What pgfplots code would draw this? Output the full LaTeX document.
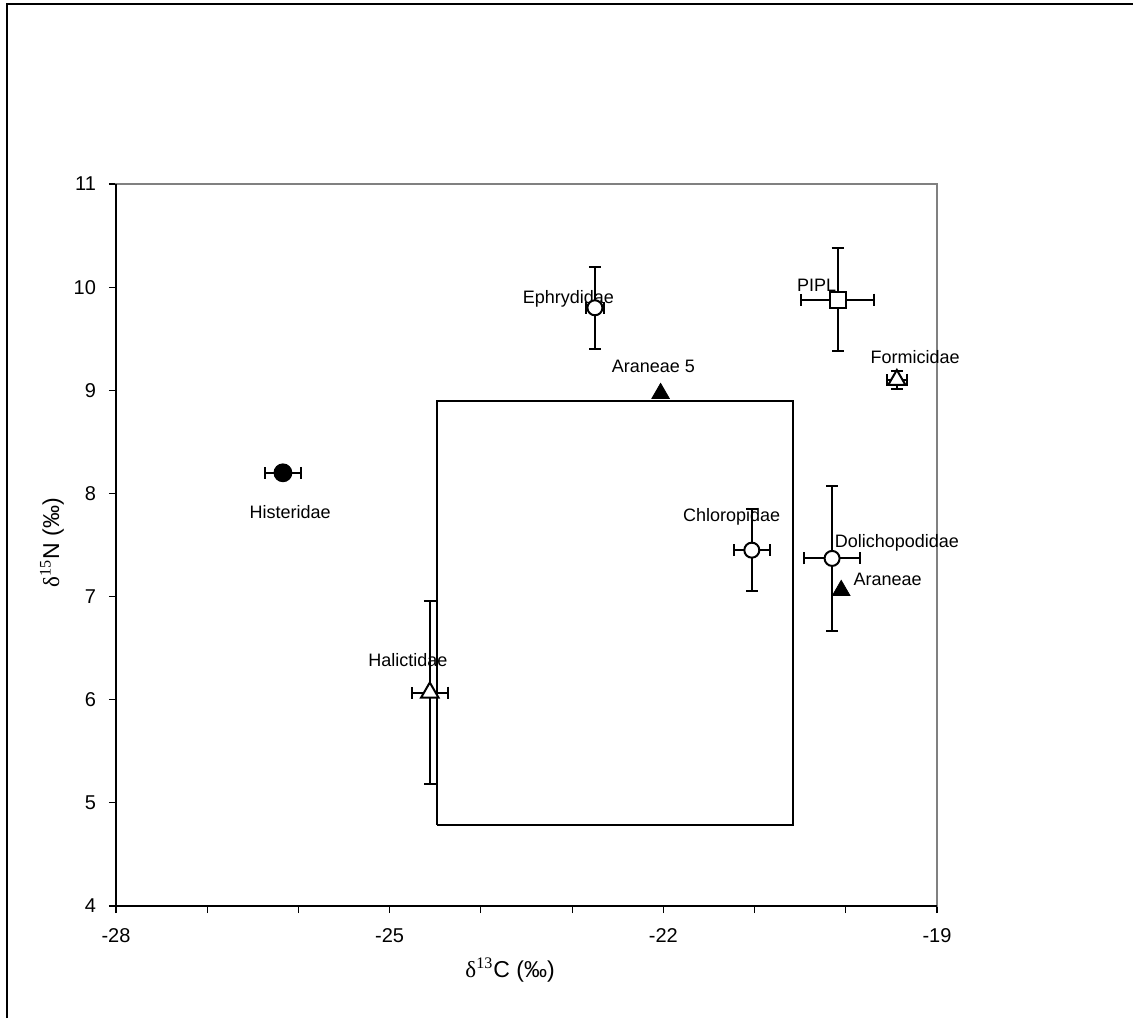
\documentclass[border=0pt]{standalone}
\usepackage{pgfplots}
\pgfplotsset{compat=1.18}
\usepackage{fontspec}
\setmainfont{Liberation Sans}
\newfontfamily\seriffont{Liberation Serif}
\tikzset{lab/.style={font=\fontsize{9}{11}\selectfont, inner sep=0pt}}
\begin{document}
\begin{tikzpicture}
\useasboundingbox (-58pt,-56pt) rectangle (508.5pt,453pt);
\draw[line width=1pt] (-54.5pt,-56pt) -- (-54.5pt,451pt) -- (508.5pt,451pt);
\begin{axis}[at={(0pt,0pt)}, anchor=south west, scale only axis,
  width=410.5pt, height=361pt,
  xmin=-28, xmax=-19, ymin=4, ymax=11,
  xtick={-28,-27,-26,-25,-24,-23,-22,-21,-20,-19},
  xticklabels={-28,,,-25,,,-22,,,-19},
  ytick={4,5,6,7,8,9,10,11},
  yticklabels={4,5,6,7,8,9,10,11},
  tick align=outside, tick pos=left,
  major tick length=3.5pt,
  tick style={black, line width=0.6pt},
  axis line style={draw=gray, line width=0.8pt},
  clip=false,
  ticklabel style={font=\fontsize{10}{12}\selectfont},
  xticklabel style={yshift=-4pt},
  yticklabel style={xshift=-3pt},
  xlabel={{\fontsize{11.5}{13}\selectfont{\seriffont δ\textsuperscript{13}}C (‰)}},
  ylabel={{\fontsize{11.5}{13}\selectfont{\seriffont δ\textsuperscript{15}}N (‰)}},
  xlabel style={at={(axis description cs:0.48,0)}, anchor=center, yshift=-32pt},
  ylabel style={at={(axis description cs:-0.078,0.503)}, anchor=center},
  errs/.style={black, line width=1pt, only marks,
    error bars/x dir=both, error bars/x explicit,
    error bars/y dir=both, error bars/y explicit,
    error bars/error bar style={line width=1pt},
    error bars/error mark options={rotate=90, black, line width=1pt, mark size=3pt}},
]
% box
\addplot[black, line width=1pt, mark=none] coordinates {(-24.48,4.79) (-20.58,4.79) (-20.58,8.90) (-24.48,8.90) (-24.48,4.79)};
% Histeridae
\addplot[errs, mark=*, mark size=4.2pt, mark options={fill=black, solid}] coordinates {(-26.17,8.20) +- (0.2,0)};
% Ephrydidae
\addplot[errs, mark=*, mark size=3.75pt, mark options={fill=white, draw=black, solid}] coordinates {(-22.75,9.80) +- (0.1,0.4)};
% PIPL
\addplot[errs, mark=square*, mark size=4pt, mark options={fill=white, draw=black, solid}] coordinates {(-20.09,9.88) +- (0.4,0.5)};
% Formicidae
\addplot[errs, mark=triangle*, mark size=5pt, mark options={fill=white, draw=black, solid}] coordinates {(-19.44,9.10) +- (0.11,0.09)};
% Chloropidae
\addplot[errs, mark=*, mark size=3.75pt, mark options={fill=white, draw=black, solid}] coordinates {(-21.03,7.45) +- (0.2,0.4)};
% Dolichopodidae
\addplot[errs, mark=*, mark size=3.75pt, mark options={fill=white, draw=black, solid}] coordinates {(-20.15,7.37) +- (0.31,0.70)};
% Halictidae
\addplot[errs, mark=triangle*, mark size=5pt, mark options={fill=white, draw=black, solid}] coordinates {(-24.56,6.07) +- (0.2,0.89)};
% Araneae 5
\addplot[only marks, mark=triangle*, mark size=5pt, mark options={fill=black, draw=black}] coordinates {(-22.03,8.97)};
% Araneae
\addplot[only marks, mark=triangle*, mark size=5pt, mark options={fill=black, draw=black}] coordinates {(-20.05,7.06)};
\draw[black, line width=0.8pt] (rel axis cs:0,1) -- (rel axis cs:0,0) -- (rel axis cs:1,0);
\node[lab] at (axis cs:-26.09,7.82) {Histeridae};
\node[lab] at (axis cs:-23.04,9.89) {Ephrydidae};
\node[lab] at (axis cs:-22.11,9.23) {Araneae 5};
\node[lab] at (axis cs:-20.32,10.02) {PIPL};
\node[lab] at (axis cs:-19.24,9.32) {Formicidae};
\node[lab] at (axis cs:-21.25,7.77) {Chloropidae};
\node[lab] at (axis cs:-19.44,7.52) {Dolichopodidae};
\node[lab] at (axis cs:-19.54,7.17) {Araneae};
\node[lab] at (axis cs:-24.80,6.38) {Halictidae};
\end{axis}
\end{tikzpicture}
\end{document}
